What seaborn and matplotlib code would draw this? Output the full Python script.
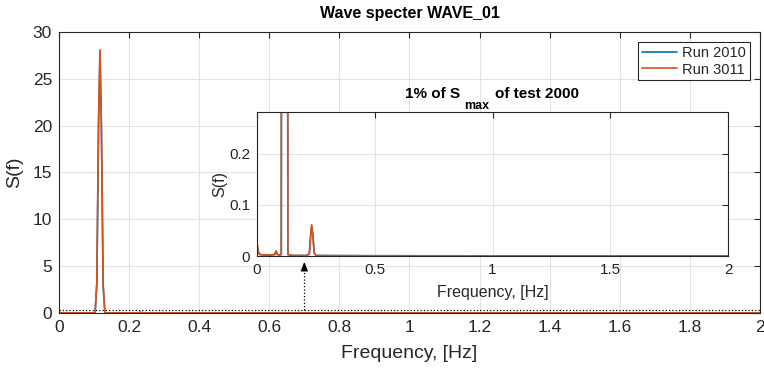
import matplotlib
matplotlib.use("Agg")
import matplotlib.pyplot as plt
import seaborn as sns
import pandas as pd

# Spectrum samples, run 2010
freq_2010 = [0.0, 0.005, 0.012, 0.03, 0.06, 0.075, 0.081, 0.087, 0.095, 0.103,
             0.108, 0.113, 0.117, 0.121, 0.126, 0.131, 0.15, 0.21, 0.222, 0.228,
             0.232, 0.237, 0.243, 0.25, 0.3, 0.5, 1.0, 1.5, 2.0]
s_2010 = [0.022, 0.008, 0.003, 0.002, 0.002, 0.003, 0.009, 0.003, 0.002, 0.003,
          3.1, 20.3, 27.9, 19.8, 2.9, 0.003, 0.001, 0.001, 0.004, 0.040,
          0.058, 0.040, 0.006, 0.001, 0.0008, 0.0005, 0.0003, 0.0002, 0.0001]

# Spectrum samples, run 3011
freq_3011 = [0.0, 0.005, 0.012, 0.03, 0.06, 0.075, 0.081, 0.087, 0.095, 0.103,
             0.108, 0.113, 0.117, 0.121, 0.126, 0.131, 0.15, 0.21, 0.222, 0.228,
             0.232, 0.237, 0.243, 0.25, 0.3, 0.5, 1.0, 1.5, 2.0]
s_3011 = [0.025, 0.009, 0.003, 0.002, 0.002, 0.003, 0.010, 0.003, 0.002, 0.003,
          3.3, 20.8, 28.1, 20.2, 3.0, 0.003, 0.001, 0.001, 0.004, 0.042,
          0.061, 0.042, 0.006, 0.001, 0.0008, 0.0005, 0.0003, 0.0002, 0.0001]

run_names = ["Run 2010", "Run 3011"]
run_colors = ["#0072BD", "#D95319"]

x_ticks_main = [0, 0.2, 0.4, 0.6, 0.8, 1.0, 1.2, 1.4, 1.6, 1.8, 2.0]
x_tick_labels_main = ["0", "0.2", "0.4", "0.6", "0.8", "1", "1.2", "1.4", "1.6", "1.8", "2"]
y_ticks_main = [0, 5, 10, 15, 20, 25, 30]
x_ticks_inset = [0, 0.5, 1.0, 1.5, 2.0]
x_tick_labels_inset = ["0", "0.5", "1", "1.5", "2"]
y_ticks_inset = [0, 0.1, 0.2]
y_tick_labels_inset = ["0", "0.1", "0.2"]

reference_max = 28.1          # S_max of test 2000
threshold = 0.01 * reference_max
arrow_x = 0.7

df = pd.concat([
    pd.DataFrame({"f": freq_2010, "S": s_2010, "run": run_names[0]}),
    pd.DataFrame({"f": freq_3011, "S": s_3011, "run": run_names[1]}),
], ignore_index=True)

sns.set_theme(style="whitegrid")
plt.rcParams["font.family"] = ["Liberation Sans", "DejaVu Sans"]
plt.rcParams["xtick.direction"] = "in"
plt.rcParams["ytick.direction"] = "in"

W, H = 764, 372
fig = plt.figure(figsize=(W / 100, H / 100), dpi=100)
palette = dict(zip(run_names, run_colors))
ink = "#262626"


def style_axes(ax, tick_size, pad):
    ax.tick_params(axis="both", which="both", direction="in", top=True, right=True,
                   length=4, width=0.8, color=ink, labelsize=tick_size,
                   labelcolor=ink, pad=pad)
    ax.grid(True, color="#e3e3e3", linewidth=0.8)
    for sp in ax.spines.values():
        sp.set_visible(True)
        sp.set_color(ink)
        sp.set_linewidth(0.8)


# Main spectrum
ax = fig.add_axes([0.0772, 0.1586, 0.9175, 0.7554])
sns.lineplot(data=df, x="f", y="S", hue="run", palette=palette, ax=ax,
             linewidth=1.2, estimator=None, sort=False)
ax.axhline(threshold, color="black", linestyle=":", linewidth=0.9, zorder=1)
ax.set_xlim(0, 2)
ax.set_ylim(0, 30)
ax.set_xticks(x_ticks_main)
ax.set_xticklabels(x_tick_labels_main)
ax.set_yticks(y_ticks_main)
style_axes(ax, 12.5, 5)
ax.set_xlabel("Frequency, [Hz]", fontsize=14, color=ink, labelpad=7)
ax.set_ylabel("S(f)", fontsize=14, color=ink, labelpad=7)
ax.set_title("Wave specter WAVE_01", fontsize=11.5, fontweight="bold", color="black", pad=10)
leg = ax.legend(loc="upper right", bbox_to_anchor=(0.9857, 0.9644), borderaxespad=0,
                fontsize=10.5, frameon=True, fancybox=False, edgecolor=ink,
                framealpha=1, handlelength=2.4, borderpad=0.25, labelspacing=0.2,
                handletextpad=0.4)
leg.get_frame().set_linewidth(0.8)
leg.set_title(None)

# Dotted pointer from the threshold line up to the zoomed view
ax.plot([arrow_x, arrow_x], [threshold, 5.0], color="black", linestyle=":", linewidth=0.9)
ax.annotate("", xy=(arrow_x, 5.45), xytext=(arrow_x, 4.6),
            arrowprops=dict(arrowstyle="-|>,head_length=0.45,head_width=0.18",
                            color="black", linewidth=0.8, shrinkA=0, shrinkB=0))

# Zoom on the low-energy part of the spectrum
axi = fig.add_axes([0.3364, 0.3118, 0.6165, 0.387])
axi.set_facecolor("white")
sns.lineplot(data=df, x="f", y="S", hue="run", palette=palette, ax=axi,
             linewidth=1.2, estimator=None, sort=False, legend=False)
axi.set_xlim(0, 2)
axi.set_ylim(0, threshold)
axi.set_xticks(x_ticks_inset)
axi.set_xticklabels(x_tick_labels_inset)
axi.set_yticks(y_ticks_inset)
axi.set_yticklabels(y_tick_labels_inset)
style_axes(axi, 11, 5)
axi.set_xlabel("Frequency, [Hz]", fontsize=11.5, color=ink, labelpad=6)
axi.set_ylabel("S(f)", fontsize=11.5, color=ink, labelpad=1)

# Inset title with a lowered "max" subscript
title_kw = dict(fontweight="bold", color="black", va="baseline", ha="left")
fig.text(405 / W, 1 - 98 / H, "1% of S", fontsize=11, **title_kw)
fig.text(464 / W, 1 - 109 / H, "max", fontsize=9, **title_kw)
fig.text(495 / W, 1 - 98 / H, "of test 2000", fontsize=11, **title_kw)

fig.savefig("out.png", dpi=100)
